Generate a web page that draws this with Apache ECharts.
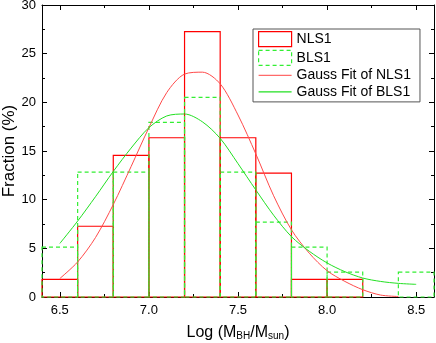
<!DOCTYPE html>
<html>
<head>
<meta charset="utf-8">
<script src="https://cdn.jsdelivr.net/npm/echarts@6/dist/echarts.min.js"></script>
<style>
  html, body { margin: 0; padding: 0; background: #fff; }
  #chart { width: 436px; height: 343px; }
</style>
</head>
<body>
<div id="chart"></div>
<script>
// histogram bins (left edge, width 0.2)
var binStart = [6.4, 6.6, 6.8, 7.0, 7.2, 7.4, 7.6, 7.8, 8.0, 8.2, 8.4];
var binWidth = 0.2;
var nls1 = [1.82, 7.27, 14.55, 16.36, 27.27, 16.36, 12.73, 1.82, 1.82, 0, 0];
var bls1 = [5.13, 12.82, 12.82, 17.95, 20.51, 12.82, 7.69, 5.13, 2.56, 0, 2.56];

// gauss fit curves
var fitX = [6.5, 6.6, 6.7, 6.8, 6.9, 7.0, 7.1, 7.2, 7.3, 7.4, 7.5, 7.6, 7.7, 7.8, 7.9, 8.0, 8.1, 8.2, 8.3, 8.4, 8.5];
var fitNls1 = [1.9, 3.6, 6.1, 9.5, 13.4, 17.4, 21.0, 22.9, 23.1, 21.9, 18.7, 14.7, 10.4, 6.9, 4.5, 2.7, 1.6, 0.75, 0.2, 0.05, null];
var fitBls1 = [5.5, 7.8, 10.3, 12.9, 15.3, 17.4, 18.6, 18.8, 18.0, 16.3, 13.7, 11.0, 8.4, 6.2, 4.7, 3.5, 2.6, 1.95, 1.6, 1.4, 1.3];

// axis ticks
var xMajor = [6.5, 7.0, 7.5, 8.0, 8.5];
var xMinor = [6.75, 7.25, 7.75, 8.25];

var FONT = "'Liberation Sans', Arial, sans-serif";
var LINE_ICON = 'path://M0,0 L33,0 L33,1.2 L0,1.2 Z';

function histData(vals) {
    var out = [];
    for (var i = 0; i < binStart.length; i++) {
        if (vals[i] > 0) out.push([binStart[i], binStart[i] + binWidth, vals[i]]);
    }
    return out;
}

function curveData(vals) {
    var out = [];
    for (var i = 0; i < fitX.length; i++) {
        if (vals[i] != null) out.push([fitX[i], vals[i]]);
    }
    return out;
}

function boxRender(color, dash) {
    return function (params, api) {
        var p0 = api.coord([api.value(0), api.value(2)]);
        var p1 = api.coord([api.value(1), 0]);
        return {
            type: 'rect',
            shape: { x: p0[0], y: p0[1], width: p1[0] - p0[0], height: p1[1] - p0[1] },
            style: { fill: 'none', stroke: color, lineWidth: 1.2, lineDash: dash }
        };
    };
}

function xAxisDef(pos, ticks, len, showLine, showLabel) {
    return {
        type: 'value', position: pos, min: 6.4, max: 8.6,
        axisLine: { show: showLine, lineStyle: { color: '#000', width: 1 } },
        axisTick: { show: true, inside: true, length: len, customValues: ticks, lineStyle: { color: '#000' } },
        axisLabel: {
            show: showLabel, customValues: ticks, margin: 7, color: '#000', fontSize: 13, fontFamily: FONT,
            formatter: function (v) { return v.toFixed(1); }
        },
        splitLine: { show: false }
    };
}

var myChart = echarts.init(document.getElementById('chart'));
var option = {
    backgroundColor: '#fff',
    animation: false,
    grid: { left: 42, right: 2, top: 5, bottom: 46, outerBoundsMode: 'none', containLabel: false },
    legend: {
        orient: 'vertical', left: 253, top: 29,
        padding: [2, 9, 3, 5], itemGap: 2.5, itemWidth: 33, itemHeight: 15,
        borderColor: '#555', borderWidth: 1,
        textStyle: { fontSize: 14, fontFamily: FONT, color: '#000' },
        data: [
            { name: 'NLS1', icon: 'rect', itemStyle: { color: 'rgba(0,0,0,0)', borderColor: '#ff0000', borderWidth: 1.2 } },
            { name: 'BLS1', icon: 'rect', itemStyle: { color: 'rgba(0,0,0,0)', borderColor: '#33ee33', borderWidth: 1.2, borderType: [4, 3] } },
            { name: 'Gauss Fit of NLS1', icon: LINE_ICON, itemStyle: { color: '#ff6a6a' } },
            { name: 'Gauss Fit of BLS1', icon: LINE_ICON, itemStyle: { color: '#22e022' } }
        ]
    },
    xAxis: [
        (function () {
            var a = xAxisDef('bottom', xMajor, 5, true, true);
            a.name = '{a|Log (M}{s|BH}{a|/M}{s|sun}{a|)}';
            a.nameLocation = 'middle';
            a.nameGap = 27;
            a.nameMoveOverlap = false;
            a.nameTextStyle = {
                color: '#000', fontFamily: FONT,
                rich: {
                    a: { fontSize: 16, fontFamily: FONT, color: '#000' },
                    s: { fontSize: 10, fontFamily: FONT, color: '#000', padding: [7, 0, 0, 0] }
                }
            };
            return a;
        })(),
        xAxisDef('bottom', xMinor, 3, false, false),
        xAxisDef('top', xMajor, 5, true, false),
        xAxisDef('top', xMinor, 3, false, false)
    ],
    yAxis: [
        {
            type: 'value', position: 'left', min: 0, max: 30, interval: 5,
            name: 'Fraction (%)', nameLocation: 'middle', nameGap: 24, nameMoveOverlap: false,
            nameTextStyle: { fontSize: 17, fontFamily: FONT, color: '#000' },
            axisLine: { show: true, lineStyle: { color: '#000' } },
            axisTick: { show: true, inside: true, length: 5, lineStyle: { color: '#000' } },
            minorTick: { show: true, splitNumber: 2, length: 3, lineStyle: { color: '#000' } },
            axisLabel: { margin: 6, color: '#000', fontSize: 13, fontFamily: FONT },
            splitLine: { show: false }, minorSplitLine: { show: false }
        },
        {
            type: 'value', position: 'right', min: 0, max: 30, interval: 5,
            axisLine: { show: true, lineStyle: { color: '#000' } },
            axisTick: { show: true, inside: true, length: 5, lineStyle: { color: '#000' } },
            minorTick: { show: true, splitNumber: 2, length: 3, lineStyle: { color: '#000' } },
            axisLabel: { show: false },
            splitLine: { show: false }, minorSplitLine: { show: false }
        }
    ],
    series: [
        {
            name: 'NLS1', type: 'custom', xAxisIndex: 0, yAxisIndex: 0,
            renderItem: boxRender('#ff0000', null),
            encode: { x: [0, 1], y: 2 },
            data: histData(nls1), z: 2
        },
        {
            name: 'BLS1', type: 'custom', xAxisIndex: 0, yAxisIndex: 0,
            renderItem: boxRender('#33ee33', [4, 3]),
            encode: { x: [0, 1], y: 2 },
            data: histData(bls1), z: 3
        },
        {
            name: 'Gauss Fit of NLS1', type: 'line', xAxisIndex: 0, yAxisIndex: 0,
            smooth: 0.3, symbol: 'none', showSymbol: false,
            lineStyle: { color: '#ff4a4a', width: 1 }, itemStyle: { color: '#ff4a4a' },
            data: curveData(fitNls1), z: 4
        },
        {
            name: 'Gauss Fit of BLS1', type: 'line', xAxisIndex: 0, yAxisIndex: 0,
            smooth: 0.3, symbol: 'none', showSymbol: false,
            lineStyle: { color: '#22e022', width: 1 }, itemStyle: { color: '#22e022' },
            data: curveData(fitBls1), z: 4
        }
    ]
};
myChart.setOption(option);
</script>
</body>
</html>
